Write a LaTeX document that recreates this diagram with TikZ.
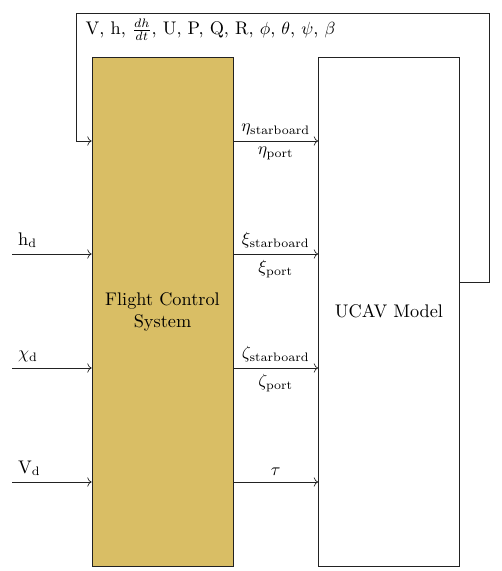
\documentclass[tikz,border=0pt]{standalone}
\usepackage{amsmath,amssymb}
\usepackage{xcolor}
\usetikzlibrary{arrows.meta, positioning, calc}
\definecolor{cFCS}{HTML}{D9BE65}
\definecolor{cLINE}{HTML}{222222}

\begin{document}
\begin{tikzpicture}[
  x=0.02cm, y=-0.02cm,
  font=\fontsize{10.4}{12.5}\selectfont,
  block/.style={draw=cLINE, rectangle, minimum width=2.82cm, minimum height=10.18cm, align=center, inner sep=0pt},
  arr/.style={->, draw=cLINE}
]
\useasboundingbox (0,0) rectangle (501,571);

% blocks
\node[block, fill=cFCS] (fcs)  at (162.5,311.5) {Flight Control\\System};
\node[block]            (ucav) at (389,311.5)   {UCAV Model};

% signal levels
\coordinate (r1) at (0,141);
\coordinate (r2) at (0,254);
\coordinate (r3) at (0,368);
\coordinate (r4) at (0,482);

% reference inputs
\coordinate (hd) at (12,254);
\coordinate (xd) at (12,368);
\coordinate (vd) at (12,482);
\draw[arr] (hd) node[above right] {h$_{\mathrm{d}}$}    -- (fcs.west |- hd);
\draw[arr] (xd) node[above right] {$\chi_{\mathrm{d}}$} -- (fcs.west |- xd);
\draw[arr] (vd) node[above right] {V$_{\mathrm{d}}$}    -- (fcs.west |- vd);

% control outputs
\draw[arr] (fcs.east |- r1) -- node[above] {$\eta_{\mathrm{starboard}}$} node[below] {$\eta_{\mathrm{port}}$} (ucav.west |- r1);
\draw[arr] (fcs.east |- r2) -- node[above] {$\xi_{\mathrm{starboard}}$} node[below] {$\xi_{\mathrm{port}}$} (ucav.west |- r2);
\draw[arr] (fcs.east |- r3) -- node[above] {$\zeta_{\mathrm{starboard}}$} node[below] {$\zeta_{\mathrm{port}}$} (ucav.west |- r3);
\draw[arr] (fcs.east |- r4) -- node[above] {$\tau$} (ucav.west |- r4);

% state feedback
\coordinate (fbr) at (489,282);
\coordinate (fbt) at (76,13);
\draw[arr] (ucav.east |- fbr) -- (fbr) |- (fbt) |- (fcs.west |- r1);
\node[below right, xshift=2pt] (states) at (fbt)
  {V, h, $\frac{dh}{dt}$, U, P, Q, R, $\phi$, $\theta$, $\psi$, $\beta$};
\end{tikzpicture}
\end{document}
